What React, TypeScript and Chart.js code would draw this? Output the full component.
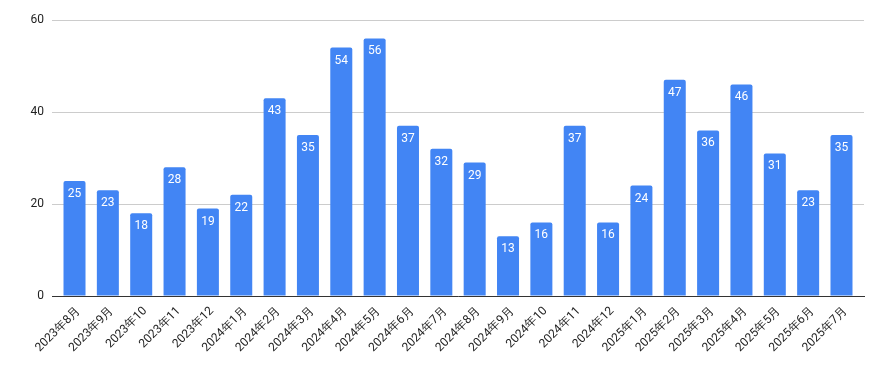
import React, { useEffect, useRef } from "react";
import { Chart, registerables } from "chart.js";

Chart.register(...registerables);

const categories = [
  "2023年8月", "2023年9月", "2023年10", "2023年11", "2023年12",
  "2024年1月", "2024年2月", "2024年3月", "2024年4月", "2024年5月", "2024年6月",
  "2024年7月", "2024年8月", "2024年9月", "2024年10", "2024年11", "2024年12",
  "2025年1月", "2025年2月", "2025年3月", "2025年4月", "2025年5月", "2025年6月", "2025年7月",
];
const values = [25, 23, 18, 28, 19, 22, 43, 35, 54, 56, 37, 32, 29, 13, 16, 37, 16, 24, 47, 36, 46, 31, 23, 35];
const yTicks = [0, 20, 40, 60];
const edgeGap = 0.675;

const labelPlugin = {
  id: "barLabels",
  afterDatasetsDraw(chart: any) {
    const ctx = chart.ctx;
    const meta = chart.getDatasetMeta(0);
    ctx.save();
    ctx.fillStyle = "#ffffff";
    ctx.font = "12px Roboto";
    ctx.textAlign = "center";
    ctx.textBaseline = "middle";
    meta.data.forEach((bar: any, i: number) => {
      ctx.fillText(String(values[i]), bar.x, bar.y + 13);
    });
    ctx.restore();
  },
};

export default function App() {
  const ref = useRef<HTMLCanvasElement>(null);
  useEffect(() => {
    document.body.style.margin = "0";
    const chart = new Chart(ref.current!, {
      type: "bar",
      data: {
        labels: categories,
        datasets: [
          {
            data: values,
            backgroundColor: "#4285F4",
            borderRadius: 2,
            borderSkipped: "bottom",
            barPercentage: 0.66,
            categoryPercentage: 1,
          },
        ],
      },
      options: {
        animation: false,
        responsive: false,
        maintainAspectRatio: false,
        layout: { padding: { top: 20, right: 18, left: 0, bottom: 0 } },
        plugins: { legend: { display: false }, tooltip: { enabled: false } },
        scales: {
          x: {
            offset: false,
            afterBuildTicks: (s: any) => {
              s.ticks = categories.map((_, i) => ({ value: i }));
              s._startValue = -edgeGap;
              s._valueRange = categories.length - 1 + 2 * edgeGap;
            },
            grid: { display: false, drawTicks: false },
            border: { color: "#333333", width: 1 },
            ticks: {
              color: "#222222",
              font: { family: "Roboto", size: 12 },
              maxRotation: 45,
              minRotation: 45,
              autoSkip: false,
              padding: 8,
              labelOffset: 4,
            },
            afterFit: (s: any) => { s.height = 75; },
          },
          y: {
            min: 0,
            max: 60,
            afterBuildTicks: (s: any) => { s.ticks = yTicks.map((v) => ({ value: v })); },
            grid: { color: "#cccccc", drawTicks: false },
            border: { display: false },
            ticks: {
              color: "#222222",
              font: { family: "Roboto", size: 12 },
              padding: 8,
            },
            afterFit: (s: any) => { s.width = 52; },
          },
        },
      },
      plugins: [labelPlugin],
    });
    return () => chart.destroy();
  }, []);
  return (
    <div style={{ width: 882, height: 371 }}>
      <canvas ref={ref} width={882} height={371} style={{ display: "block" }} />
    </div>
  );
}
